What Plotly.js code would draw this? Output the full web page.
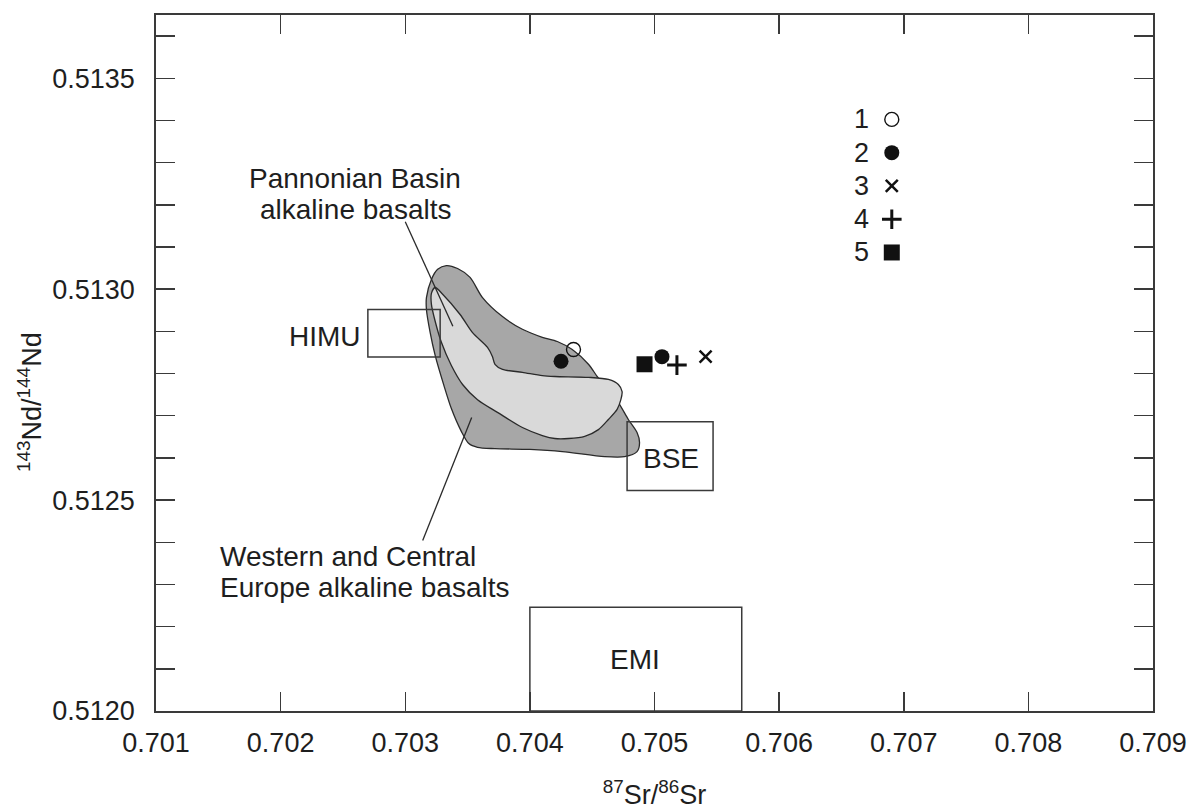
<!DOCTYPE html>
<html>
<head>
<meta charset="utf-8">
<script src="https://cdn.plot.ly/plotly-3.0.1.min.js"></script>
<style>html,body{margin:0;padding:0;background:#fff;}#chart{width:1189px;height:810px;}</style>
</head>
<body>
<div id="chart"></div>
<script>
// ---------- data ----------
// sample groups (legend numbers)
const sampleNames = ['1', '2', '3', '4', '5'];
const sampleSr = [[0.70435], [0.70425, 0.70506], [0.70541], [0.70518], [0.70492]];
const sampleNd = [[0.512857], [0.512829, 0.512840], [0.512840], [0.512820], [0.512822]];

// Western and Central Europe alkaline basalts field (outline)
const wceSr = [0.70333, 0.70342, 0.70352, 0.70362, 0.70378, 0.70394, 0.70410, 0.70422, 0.70434, 0.70447,
  0.70454, 0.70462, 0.70471, 0.70479, 0.70486, 0.70488, 0.70486, 0.70476, 0.70460, 0.70426,
  0.70400, 0.70372, 0.70358, 0.70351, 0.70345, 0.70337, 0.70331, 0.70324, 0.70320, 0.70317,
  0.70317, 0.70321, 0.70326, 0.70333];
const wceNd = [0.513056, 0.513049, 0.513028, 0.512980, 0.512935, 0.512905, 0.512886, 0.512876, 0.512857, 0.512822,
  0.512793, 0.512762, 0.512731, 0.512691, 0.512660, 0.512636, 0.512615, 0.512603, 0.512603, 0.512615,
  0.512620, 0.512622, 0.512625, 0.512634, 0.512663, 0.512717, 0.512772, 0.512843, 0.512897, 0.512952,
  0.512980, 0.513023, 0.513047, 0.513056];

// Pannonian Basin alkaline basalts field (outline)
const pbSr = [0.70324, 0.70330, 0.70344, 0.70354, 0.70366, 0.70370, 0.70372, 0.70378, 0.70394, 0.70410,
  0.70420, 0.70447, 0.70463, 0.70471, 0.70474, 0.70473, 0.70470, 0.70463, 0.70455, 0.70444,
  0.70431, 0.70420, 0.70410, 0.70394, 0.70374, 0.70358, 0.70346, 0.70337, 0.70329, 0.70324,
  0.70321, 0.70321, 0.70324];
const pbNd = [0.513004, 0.512988, 0.512940, 0.512897, 0.512862, 0.512840, 0.512822, 0.512810, 0.512803, 0.512795,
  0.512793, 0.512791, 0.512786, 0.512774, 0.512757, 0.512738, 0.512715, 0.512691, 0.512667, 0.512651,
  0.512646, 0.512646, 0.512653, 0.512672, 0.512708, 0.512738, 0.512774, 0.512819, 0.512874, 0.512924,
  0.512964, 0.512990, 0.513004];

// mantle reservoir boxes
const reservoirNames = ['HIMU', 'BSE', 'EMI'];
const reservoirSrMin = [0.70270, 0.70478, 0.70400];
const reservoirSrMax = [0.70328, 0.70547, 0.70570];
const reservoirNdMin = [0.512839, 0.512523, 0.512000];
const reservoirNdMax = [0.512952, 0.512686, 0.512246];

// axis ticks
const xTickVals = [0.701, 0.702, 0.703, 0.704, 0.705, 0.706, 0.707, 0.708, 0.709];
const xTickText = ['0.701', '0.702', '0.703', '0.704', '0.705', '0.706', '0.707', '0.708', '0.709'];
const yTickVals = [0.5120, 0.5125, 0.5130, 0.5135];
const yTickText = ['0.5120', '0.5125', '0.5130', '0.5135'];

// ---------- styles ----------
const FONT = 'Liberation Sans, Arial, Helvetica, sans-serif';
const INK = '#1e1e1e';
const AX = '#3a3a3a';
const sampleMarkers = [
  {symbol: 'circle-open', size: 14, color: '#111', line: {width: 1.4, color: '#111'}},
  {symbol: 'circle', size: 15, color: '#111', line: {width: 0}},
  {symbol: 'x-thin', size: 12, color: '#111', line: {width: 2.5, color: '#111'}},
  {symbol: 'cross-thin', size: 14, color: '#111', line: {width: 3, color: '#111'}},
  {symbol: 'square', size: 16, color: '#111', line: {width: 0}}
];

const traces = [];
traces.push({
  type: 'scatter', mode: 'lines', x: wceSr, y: wceNd, fill: 'toself', fillcolor: '#a7a7a7',
  line: {color: '#2a2a2a', width: 1.3, shape: 'spline', smoothing: 0.8}, hoverinfo: 'skip', showlegend: false
});
traces.push({
  type: 'scatter', mode: 'lines', x: pbSr, y: pbNd, fill: 'toself', fillcolor: '#d9d9d9',
  line: {color: '#2a2a2a', width: 1.3, shape: 'spline', smoothing: 0.8}, hoverinfo: 'skip', showlegend: false
});
sampleNames.forEach((n, i) => {
  traces.push({type: 'scatter', mode: 'markers', name: n, x: sampleSr[i], y: sampleNd[i],
    marker: sampleMarkers[i], showlegend: false, cliponaxis: false});
});

// key (legend) drawn in plot-fraction coordinates on an overlay axis
const keyX = 0.738, keyTop = 0.850, keyStep = 0.0478, keyTextX = 0.717;
sampleNames.forEach((n, i) => {
  traces.push({type: 'scatter', mode: 'markers', x: [keyX], y: [keyTop - i * keyStep],
    xaxis: 'x2', yaxis: 'y2', marker: sampleMarkers[i], showlegend: false, hoverinfo: 'skip', cliponaxis: false});
});

const shapes = [];
reservoirNames.forEach((n, i) => {
  shapes.push({type: 'rect', xref: 'x', yref: 'y', x0: reservoirSrMin[i], x1: reservoirSrMax[i],
    y0: reservoirNdMin[i], y1: reservoirNdMax[i], line: {color: AX, width: 1.5}, fillcolor: 'rgba(0,0,0,0)', layer: 'above'});
});
// leader lines from labels to fields
shapes.push({type: 'line', xref: 'x', yref: 'y', x0: 0.703000, y0: 0.513160, x1: 0.703382, y1: 0.512912,
  line: {color: '#2a2a2a', width: 1.3}, layer: 'above'});
shapes.push({type: 'line', xref: 'x', yref: 'y', x0: 0.703533, y0: 0.512696, x1: 0.703140, y1: 0.512404,
  line: {color: '#2a2a2a', width: 1.3}, layer: 'above'});

const tf = {family: FONT, size: 27, color: INK};
const af = {family: FONT, size: 28, color: INK};
const kf = {family: FONT, size: 27, color: INK};
const annotations = [
  {xref: 'x', yref: 'y', x: 0.702598, y: 0.513263, text: 'Pannonian Basin', showarrow: false, font: af},
  {xref: 'x', yref: 'y', x: 0.702598, y: 0.513190, text: 'alkaline basalts', showarrow: false, font: af},
  {xref: 'x', yref: 'y', x: 0.701500, y: 0.512366, text: 'Western and Central', showarrow: false, font: af, xanchor: 'left'},
  {xref: 'x', yref: 'y', x: 0.701500, y: 0.512292, text: 'Europe alkaline basalts', showarrow: false, font: af, xanchor: 'left'},
  {xref: 'x', yref: 'y', x: 0.702359, y: 0.512889, text: reservoirNames[0], showarrow: false, font: af},
  {xref: 'x', yref: 'y', x: 0.705134, y: 0.512599, text: reservoirNames[1], showarrow: false, font: af},
  {xref: 'x', yref: 'y', x: 0.704844, y: 0.512122, text: reservoirNames[2], showarrow: false, font: af},
  {xref: 'paper', yref: 'paper', x: -0.1264, y: 0.444, xanchor: 'center', yanchor: 'middle', textangle: -90,
    text: '<sup>143</sup>Nd/<sup>144</sup>Nd', showarrow: false, font: tf}
];
sampleNames.forEach((n, i) => {
  annotations.push({xref: 'paper', yref: 'paper', x: keyTextX, y: keyTop - i * keyStep, text: n,
    showarrow: false, xanchor: 'right', yanchor: 'middle', font: kf});
});

const layout = {
  width: 1189, height: 810,
  margin: {l: 156, r: 36, t: 15, b: 99},
  paper_bgcolor: '#ffffff', plot_bgcolor: '#ffffff',
  hovermode: false, showlegend: false,
  xaxis: {
    range: [0.701, 0.709], tickvals: xTickVals, ticktext: xTickText,
    ticks: 'inside', ticklen: 19, tickwidth: 1.5, tickcolor: AX,
    showline: true, linecolor: AX, linewidth: 1.8, mirror: 'ticks',
    showgrid: false, zeroline: false, tickfont: tf, ticklabelstandoff: 7,
    title: {text: '<sup>87</sup>Sr/<sup>86</sup>Sr', font: tf, standoff: 38}
  },
  yaxis: {
    range: [0.512, 0.51365], tickvals: yTickVals, ticktext: yTickText,
    ticks: 'inside', ticklen: 19, tickwidth: 1.5, tickcolor: AX,
    minor: {dtick: 0.0001, tick0: 0.512, ticks: 'inside', ticklen: 19, tickwidth: 1.5, tickcolor: AX, showgrid: false},
    showline: true, linecolor: AX, linewidth: 1.8, mirror: 'ticks',
    showgrid: false, zeroline: false, tickfont: tf, ticklabelstandoff: 14
  },
  xaxis2: {overlaying: 'x', anchor: 'y2', range: [0, 1], visible: false, fixedrange: true},
  yaxis2: {overlaying: 'y', anchor: 'x2', range: [0, 1], visible: false, fixedrange: true},
  shapes: shapes,
  annotations: annotations
};

Plotly.newPlot('chart', traces, layout, {displayModeBar: false, staticPlot: true});
</script>
</body>
</html>
